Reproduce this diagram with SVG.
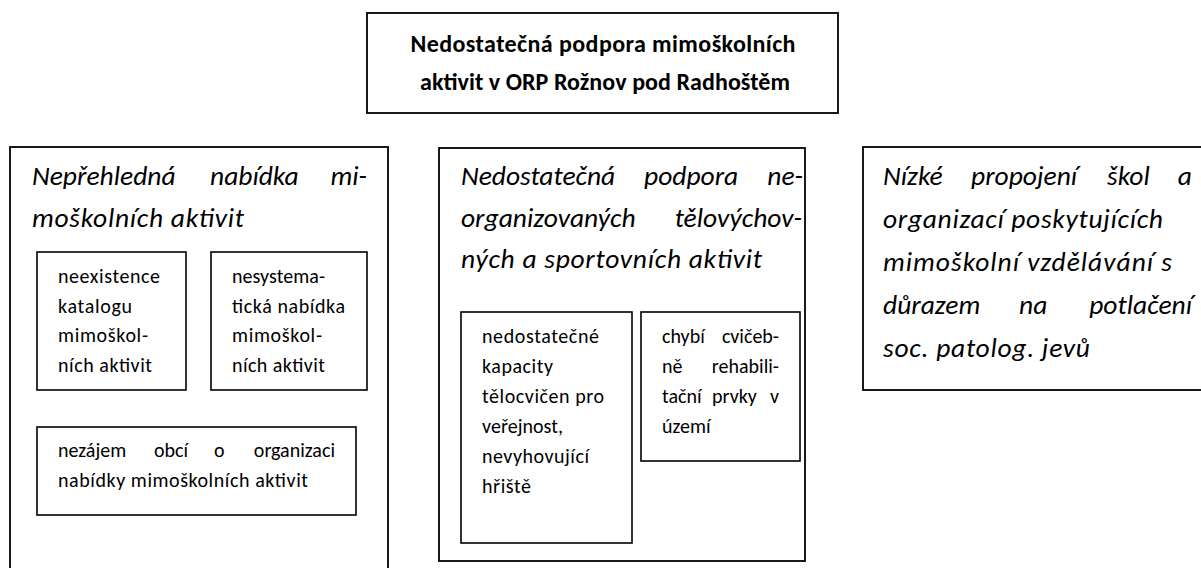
<svg xmlns="http://www.w3.org/2000/svg" width="1201" height="568" viewBox="0 0 1201 568">
<style>
.box{fill:#fff;stroke:#000;stroke-width:1.8}
.sub{fill:#fff;stroke:#000;stroke-width:1.6}
text{font-family:Carlito,Calibri,Lato,"Open Sans",sans-serif;fill:#000}
.h{font-size:27.5px;font-style:italic}
.t{font-size:20px}
.top{font-size:24px;font-weight:bold}
.e{text-anchor:end}
</style>
<rect width="1201" height="568" fill="#fff"/>
<g id="top">
<rect class="box" x="367" y="13" width="471" height="100"/>
<text class="top" x="603" y="52" text-anchor="middle" textLength="385" lengthAdjust="spacing">Nedostatečná podpora mimoškolních</text>
<text class="top" x="605" y="90" text-anchor="middle" textLength="370" lengthAdjust="spacing">aktivit v ORP Rožnov pod Radhoštěm</text>
</g>
<g id="left">
<rect class="box" x="10" y="147" width="378" height="440"/>
<text class="h" x="32" y="185">Nepřehledná</text>
<text class="h" x="210" y="185">nabídka</text>
<text class="h e" x="367" y="185">mi-</text>
<text class="h" x="32" y="227" textLength="212" lengthAdjust="spacing">moškolních aktivit</text>
</g>
<g id="left-a">
<rect class="sub" x="37" y="252" width="149" height="138"/>
<text class="t" x="58" y="283" textLength="102" lengthAdjust="spacing">neexistence</text>
<text class="t" x="58" y="312.5" textLength="74" lengthAdjust="spacing">katalogu</text>
<text class="t" x="58" y="342" textLength="90" lengthAdjust="spacing">mimoškol-</text>
<text class="t" x="58" y="371.5" textLength="94" lengthAdjust="spacing">ních aktivit</text>
</g>
<g id="left-b">
<rect class="sub" x="211" y="252" width="156" height="138"/>
<text class="t" x="232" y="283" textLength="93" lengthAdjust="spacing">nesystema-</text>
<text class="t" x="232" y="312.5" textLength="113" lengthAdjust="spacing">tická nabídka</text>
<text class="t" x="232" y="342" textLength="90" lengthAdjust="spacing">mimoškol-</text>
<text class="t" x="232" y="371.5" textLength="93" lengthAdjust="spacing">ních aktivit</text>
</g>
<g id="left-c">
<rect class="sub" x="37" y="427" width="319" height="88"/>
<text class="t" x="58" y="457">nezájem</text>
<text class="t" x="154" y="457">obcí</text>
<text class="t" x="214" y="457">o</text>
<text class="t e" x="335" y="457">organizaci</text>
<text class="t" x="58" y="487" textLength="250" lengthAdjust="spacing">nabídky mimoškolních aktivit</text>
</g>
<g id="middle">
<rect class="box" x="439" y="148" width="366" height="413"/>
<text class="h" x="461" y="185">Nedostatečná</text>
<text class="h" x="644" y="185">podpora</text>
<text class="h e" x="803" y="185">ne-</text>
<text class="h" x="461" y="227">organizovaných</text>
<text class="h e" x="802" y="227">tělovýchov-</text>
<text class="h" x="461" y="268" textLength="301" lengthAdjust="spacing">ných a sportovních aktivit</text>
</g>
<g id="middle-a">
<rect class="sub" x="461" y="312" width="171" height="231"/>
<text class="t" x="482" y="343" textLength="117" lengthAdjust="spacing">nedostatečné</text>
<text class="t" x="482" y="373" textLength="71" lengthAdjust="spacing">kapacity</text>
<text class="t" x="482" y="403" textLength="122" lengthAdjust="spacing">tělocvičen pro</text>
<text class="t" x="482" y="433" textLength="81" lengthAdjust="spacing">veřejnost,</text>
<text class="t" x="482" y="463" textLength="107" lengthAdjust="spacing">nevyhovující</text>
<text class="t" x="482" y="492.5" textLength="49" lengthAdjust="spacing">hřiště</text>
</g>
<g id="middle-b">
<rect class="sub" x="641" y="312" width="159" height="149"/>
<text class="t" x="662" y="343">chybí</text>
<text class="t e" x="779" y="343">cvičeb-</text>
<text class="t" x="662" y="373">ně</text>
<text class="t e" x="779" y="373">rehabili-</text>
<text class="t" x="662" y="403">tační</text>
<text class="t" x="712" y="403">prvky</text>
<text class="t e" x="779" y="403">v</text>
<text class="t" x="662" y="433">území</text>
</g>
<g id="right">
<rect class="box" x="863" y="147" width="350" height="243"/>
<text class="h" x="883" y="185">Nízké</text>
<text class="h" x="971" y="185">propojení</text>
<text class="h" x="1107" y="185">škol</text>
<text class="h e" x="1192" y="185">a</text>
<text class="h" x="883" y="228" textLength="280" lengthAdjust="spacing">organizací poskytujících</text>
<text class="h" x="883" y="271" textLength="289" lengthAdjust="spacing">mimoškolní vzdělávání s</text>
<text class="h" x="883" y="314">důrazem</text>
<text class="h" x="1019" y="314">na</text>
<text class="h e" x="1192" y="314">potlačení</text>
<text class="h" x="883" y="357" textLength="207" lengthAdjust="spacing">soc. patolog. jevů</text>
</g>
<g id="connectors"></g>
</svg>
